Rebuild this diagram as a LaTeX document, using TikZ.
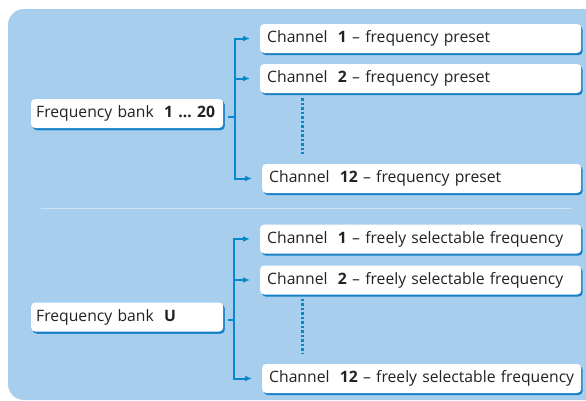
\documentclass[tikz,border=0pt]{standalone}
\usepackage{fontspec}
\setmainfont{Open Sans}
\usepackage{tikz}
\usetikzlibrary{arrows.meta,shadows,calc,positioning}
\definecolor{bgblue}{RGB}{168,206,238}
\definecolor{linkblue}{RGB}{8,136,204}
\definecolor{shadowblue}{RGB}{22,128,198}
\definecolor{textgray}{RGB}{34,34,34}
\definecolor{sepblue}{RGB}{204,226,246}
\tikzset{
  box/.style={fill=white, rounded corners=4pt, minimum height=29pt, inner xsep=7pt,
    inner ysep=0pt, align=left, text=textgray, anchor=west,
    general shadow={fill=shadowblue, shadow xshift=1.5pt, shadow yshift=-2pt}},
  bank/.style={box, inner xsep=5pt, text width=182pt},
  link/.style={draw=linkblue, line width=2pt},
  arr/.style={link, -{Latex[length=7pt,width=6pt]}, shorten >=10pt},
  dots/.style={draw=linkblue, line width=3pt, dash pattern=on 2.5pt off 2pt}
}
\begin{document}
\begin{tikzpicture}[x=1pt, y=-1pt, font=\fontsize{15.7pt}{18pt}\selectfont]
   \clip (0,0) rectangle (586,400);
   \fill[bgblue, rounded corners=16pt] (8,9) rectangle (620,400);
   \draw[sepblue, line width=1pt] (41,208) -- (571,208);
   % frequency bank 1 ... 20
   \begin{scope}[every node/.style={box}]
    \node[bank] (fb1) at (31,113.5) {\mbox{Frequency bank\ \ \textbf{1 … 20}}};
    \node[text width=307pt] (c1) at (260,38.5) {Channel\ \ \textbf{1} – frequency preset};
    \node[text width=307pt] (c2) at (260,78.5) {Channel\ \ \textbf{2} – frequency preset};
    \node[text width=305pt] (c12) at (262,178.5) {Channel\ \ \textbf{12} – frequency preset};
   \end{scope}
   % frequency bank U
   \begin{scope}[every node/.style={box}]
    \node[bank] (fbu) at (31,317) {\mbox{Frequency bank\ \ \textbf{U}}};
    \node[text width=307pt] (u1) at (260,239) {Channel\ \ \textbf{1} – freely selectable frequency};
    \node[text width=307pt] (u2) at (260,280) {Channel\ \ \textbf{2} – freely selectable frequency};
    \node[text width=305pt] (u12) at (262,378.5) {Channel\ \ \textbf{12} – freely selectable frequency};
   \end{scope}
   \coordinate (j1) at ([xshift=12pt,yshift=-3pt]fb1.east);
   \coordinate (ju) at ([xshift=11pt,yshift=-3pt]fbu.east);
   \begin{scope}
    \draw[link, shorten <=5pt] ([yshift=-3pt]fb1.east) -- (j1);
    \draw[arr] (j1) |- (c1);
    \draw[arr] (j1) |- (c2);
    \draw[arr] (j1) |- (c12);
    \draw[dots] ([xshift=42pt,yshift=-5pt]c2.south west) -- ([xshift=40pt,yshift=10pt]c12.north west);
    \draw[link, shorten <=5pt] ([yshift=-3pt]fbu.east) -- (ju);
    \draw[arr] (ju) |- (u1);
    \draw[arr] (ju) |- (u2);
    \draw[arr] (ju) |- (u12);
    \draw[dots] ([xshift=42pt,yshift=-4pt]u2.south west) -- ([xshift=40pt,yshift=10pt]u12.north west);
   \end{scope}
\end{tikzpicture}
\end{document}
